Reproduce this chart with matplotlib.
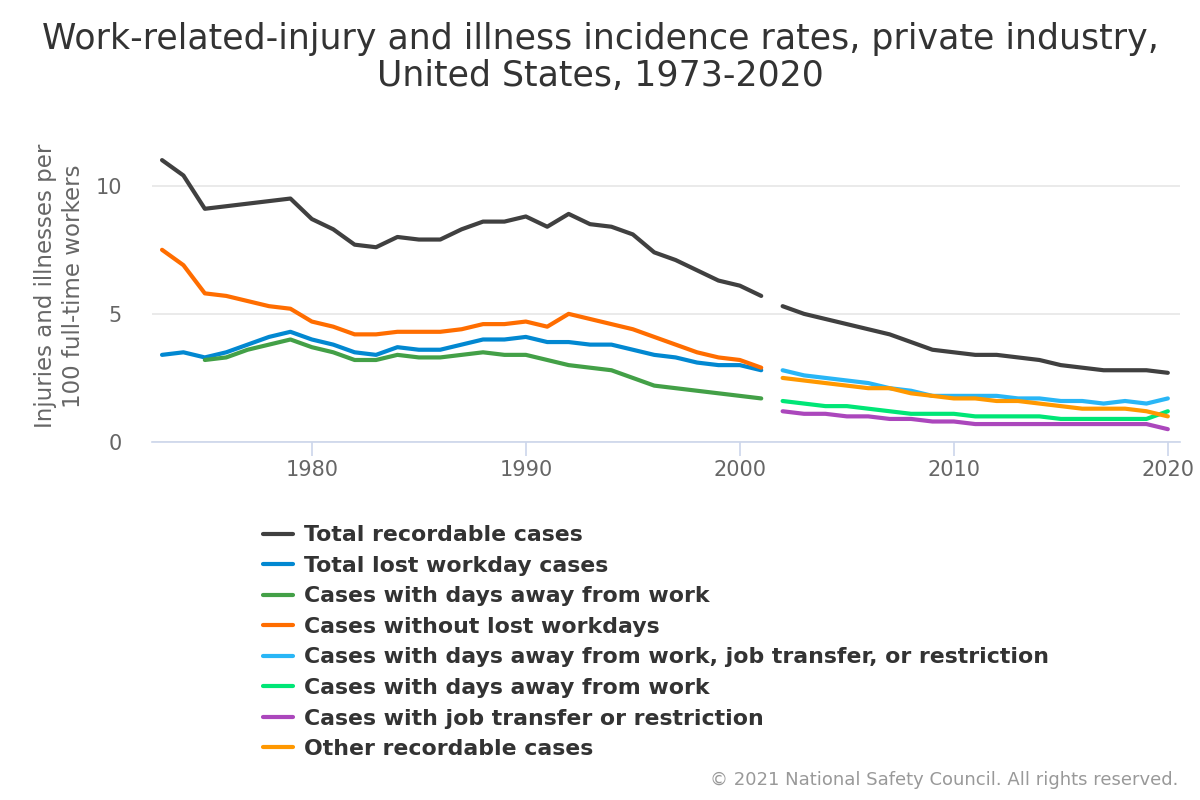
import matplotlib.pyplot as plt

# 1973-2001 series (old recordkeeping)
years_old = list(range(1973, 2002))
total_recordable = [11.0, 10.4, 9.1, 9.2, 9.3, 9.4, 9.5, 8.7, 8.3, 7.7, 7.6, 8.0, 7.9, 7.9,
                    8.3, 8.6, 8.6, 8.8, 8.4, 8.9, 8.5, 8.4, 8.1, 7.4, 7.1, 6.7, 6.3, 6.1, 5.7]
lost_workday = [3.4, 3.5, 3.3, 3.5, 3.8, 4.1, 4.3, 4.0, 3.8, 3.5, 3.4, 3.7, 3.6, 3.6,
                3.8, 4.0, 4.0, 4.1, 3.9, 3.9, 3.8, 3.8, 3.6, 3.4, 3.3, 3.1, 3.0, 3.0, 2.8]
years_dafw_old = list(range(1975, 2002))
days_away_old = [3.2, 3.3, 3.6, 3.8, 4.0, 3.7, 3.5, 3.2, 3.2, 3.4, 3.3, 3.3,
                 3.4, 3.5, 3.4, 3.4, 3.2, 3.0, 2.9, 2.8, 2.5, 2.2, 2.1, 2.0, 1.9, 1.8, 1.7]
without_lost = [7.5, 6.9, 5.8, 5.7, 5.5, 5.3, 5.2, 4.7, 4.5, 4.2, 4.2, 4.3, 4.3, 4.3,
                4.4, 4.6, 4.6, 4.7, 4.5, 5.0, 4.8, 4.6, 4.4, 4.1, 3.8, 3.5, 3.3, 3.2, 2.9]

# 2002-2020 series (new recordkeeping)
years_new = list(range(2002, 2021))
total_recordable_new = [5.3, 5.0, 4.8, 4.6, 4.4, 4.2, 3.9, 3.6, 3.5, 3.4, 3.4, 3.3, 3.2,
                        3.0, 2.9, 2.8, 2.8, 2.8, 2.7]
dart = [2.8, 2.6, 2.5, 2.4, 2.3, 2.1, 2.0, 1.8, 1.8, 1.8, 1.8, 1.7, 1.7,
        1.6, 1.6, 1.5, 1.6, 1.5, 1.7]
days_away_new = [1.6, 1.5, 1.4, 1.4, 1.3, 1.2, 1.1, 1.1, 1.1, 1.0, 1.0, 1.0, 1.0,
                 0.9, 0.9, 0.9, 0.9, 0.9, 1.2]
job_transfer = [1.2, 1.1, 1.1, 1.0, 1.0, 0.9, 0.9, 0.8, 0.8, 0.7, 0.7, 0.7, 0.7,
                0.7, 0.7, 0.7, 0.7, 0.7, 0.5]
other_recordable = [2.5, 2.4, 2.3, 2.2, 2.1, 2.1, 1.9, 1.8, 1.7, 1.7, 1.6, 1.6, 1.5,
                    1.4, 1.3, 1.3, 1.3, 1.2, 1.0]

series = [
    (years_old, total_recordable, 'Total recordable cases', '#404040'),
    (years_old, lost_workday, 'Total lost workday cases', '#0288d1'),
    (years_dafw_old, days_away_old, 'Cases with days away from work', '#43a047'),
    (years_old, without_lost, 'Cases without lost workdays', '#ff6d00'),
    (years_new, dart, 'Cases with days away from work, job transfer, or restriction', '#29b6f6'),
    (years_new, days_away_new, 'Cases with days away from work', '#00e676'),
    (years_new, job_transfer, 'Cases with job transfer or restriction', '#ab47bc'),
    (years_new, other_recordable, 'Other recordable cases', '#ff9800'),
]

fig = plt.figure(figsize=(12, 8), dpi=100)
ax = fig.add_axes([0.127, 0.4475, 0.856, 0.37])

handles = []
for x, y, label, color in series:
    h, = ax.plot(x, y, color=color, linewidth=3, label=label, solid_capstyle='round')
    handles.append(h)
# total recordable continues after 2001 with the same colour
ax.plot(years_new, total_recordable_new, color='#404040', linewidth=3, solid_capstyle='round')

ax.set_xlim(1972.55, 2020.55)
ax.set_ylim(0, 11.55)
ax.set_yticks([0, 5, 10])
ax.set_xticks([1980, 1990, 2000, 2010, 2020])
ax.grid(True, axis='y', color='#e6e6e6', linewidth=1.2)
ax.set_axisbelow(True)
for side in ['top', 'right', 'left']:
    ax.spines[side].set_visible(False)
ax.spines['bottom'].set_color('#ccd6eb')
ax.spines['bottom'].set_linewidth(1.2)
ax.tick_params(axis='x', colors='#ccd6eb', length=10, width=1.2, labelcolor='#666666',
               labelsize=15, pad=3)
ax.tick_params(axis='y', length=0, labelcolor='#666666', labelsize=15, pad=22)

ax.set_ylabel('Injuries and illnesses per\n100 full-time workers', fontsize=16.5,
              color='#666666', linespacing=1.25)
ax.yaxis.set_label_coords(-0.066, 0.527)

fig.suptitle('Work-related-injury and illness incidence rates, private industry,\n'
             'United States, 1973-2020', fontsize=25, color='#333333', y=0.972,
             linespacing=1.1)

leg = fig.legend(handles=handles, loc='upper left', bbox_to_anchor=(0.203, 0.368),
                 frameon=False, handlelength=1.35, handletextpad=0.5, labelspacing=0.48,
                 prop={'size': 15.8, 'weight': 'bold'})
for t in leg.get_texts():
    t.set_color('#333333')

fig.text(0.982, 0.014, '\u00a9 2021 National Safety Council. All rights reserved.',
         ha='right', va='bottom', fontsize=13, color='#999999')

fig.savefig('out.png', dpi=100)
